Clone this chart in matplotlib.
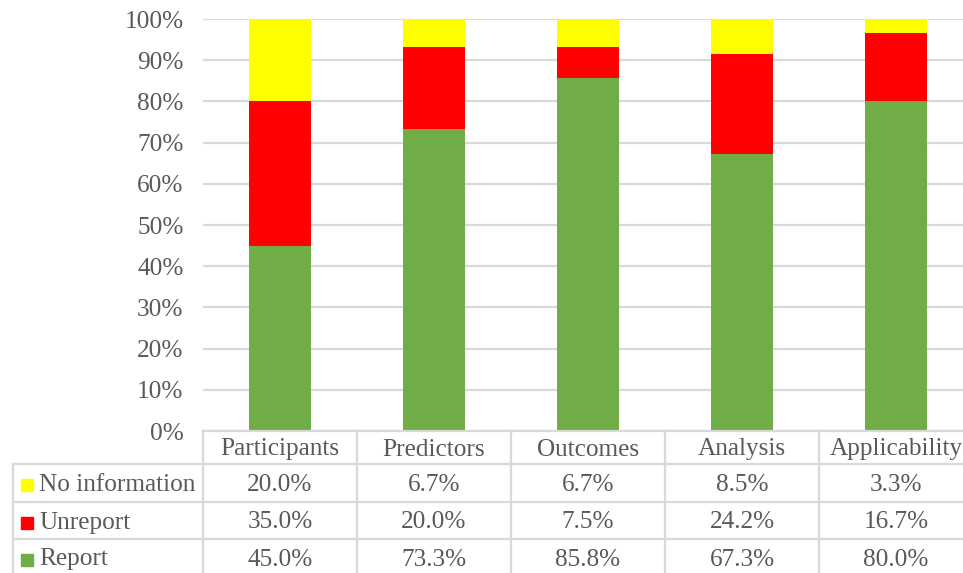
import matplotlib.pyplot as plt
from matplotlib.patches import Rectangle

plt.rcParams['font.family'] = ['Liberation Serif', 'DejaVu Serif']

categories = ['Participants', 'Predictors', 'Outcomes', 'Analysis', 'Applicability']
report = [45.0, 73.3, 85.8, 67.3, 80.0]
unreport = [35.0, 20.0, 7.5, 24.2, 16.7]
no_info = [20.0, 6.7, 6.7, 8.5, 3.3]

series = [('No information', no_info, '#FFFF00'),
          ('Unreport', unreport, '#FF0000'),
          ('Report', report, '#70AD47')]

W, H = 963, 573
txt = '#595959'
grid = '#d9d9d9'
fs = 18.2

fig = plt.figure(figsize=(W / 100, H / 100), dpi=100)

# plot area in pixel terms (runs a little past the right edge)
col_w = 154
left, top, bottom = 203, 19, 431
right = left + col_w * len(categories)
ax = fig.add_axes([left / W, 1 - bottom / H, (right - left) / W, (bottom - top) / H])
x = range(len(categories))
ax.bar(x, report, width=0.40, color='#70AD47', zorder=3)
ax.bar(x, unreport, width=0.40, bottom=report, color='#FF0000', zorder=3)
base = [a + b for a, b in zip(report, unreport)]
ax.bar(x, no_info, width=0.40, bottom=base, color='#FFFF00', zorder=3)
ax.set_xlim(-0.5, len(categories) - 0.5)
ax.set_ylim(0, 100)
ax.set_yticks(range(0, 101, 10))
ax.set_yticklabels([f'{v}%' for v in range(0, 101, 10)])
ax.tick_params(axis='y', length=0, pad=14, labelsize=fs, labelcolor=txt)
ax.set_xticks([])
for s in ax.spines.values():
    s.set_visible(False)
ax.grid(axis='y', color=grid, linewidth=1.6, zorder=0)

# data table under the plot, drawn in pixel coordinates
tb = fig.add_axes([0, 0, 1, 1], facecolor='none')
tb.set_xlim(0, W)
tb.set_ylim(H, 0)
tb.axis('off')

row_y = [431, 464, 502, 539, 576]
lx = 13
lw = 1.6

tb.plot([left, right], [row_y[0], row_y[0]], color=grid, lw=lw)
for yy in row_y[1:]:
    tb.plot([lx, right], [yy, yy], color=grid, lw=lw)
tb.plot([lx, lx], [row_y[1], row_y[-1]], color=grid, lw=lw)
for i in range(len(categories) + 1):
    xx = left + i * col_w
    tb.plot([xx, xx], [row_y[0], row_y[-1]], color=grid, lw=lw)

for i, c in enumerate(categories):
    cx = left + (i + 0.5) * col_w
    tb.text(cx, (row_y[0] + row_y[1]) / 2 + 2, c, ha='center', va='center',
            fontsize=fs, color=txt)

for r, (name, vals, col) in enumerate(series):
    cy = (row_y[r + 1] + row_y[r + 2]) / 2 + 2
    tb.add_patch(Rectangle((21, cy - 6), 12, 12, color=col))
    tb.text(39, cy, name, ha='left', va='center', fontsize=fs, color=txt)
    for i, v in enumerate(vals):
        cx = left + (i + 0.5) * col_w
        tb.text(cx, cy, f'{v:.1f}%', ha='center', va='center', fontsize=fs, color=txt)

fig.savefig('out.png', dpi=100)
